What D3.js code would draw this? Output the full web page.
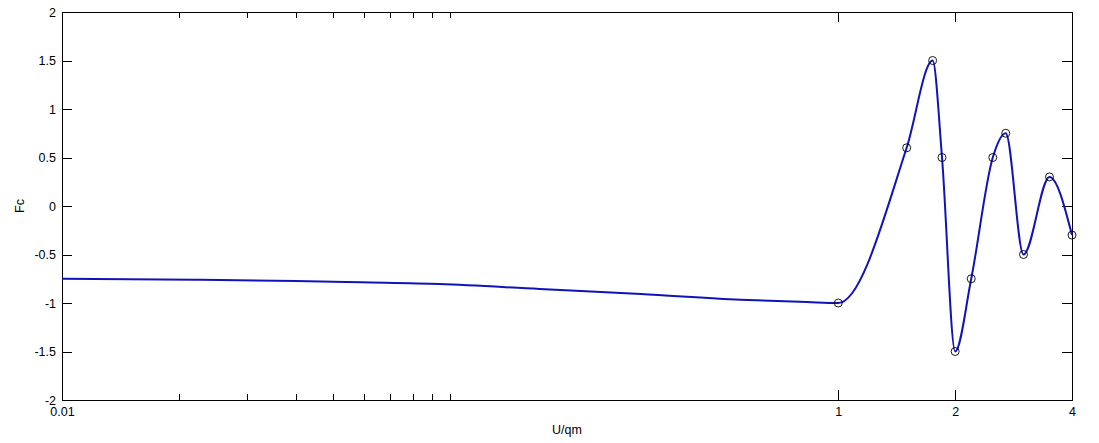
<!DOCTYPE html>
<html>
<head>
<meta charset="utf-8">
<script src="https://d3js.org/d3.v7.min.js"></script>
<style>
    body { margin: 0; background: #fff; }
    svg text { font-family: "Liberation Sans", Arial, sans-serif; font-size: 12.5px; fill: #000; }
    .axis path, .axis line { stroke: #000; shape-rendering: crispEdges; }
</style>
</head>
<body>
<div id="chart"></div>
<script>
// curve (flat part, before the first marker)
var lineU = [0.01, 0.022, 0.04, 0.059, 0.094, 0.17, 0.31, 0.56, 0.83];
var lineFc = [-0.75, -0.76, -0.773, -0.787, -0.805, -0.856, -0.907, -0.966, -0.99];

// marked points
var markU = [1, 1.5, 1.75, 1.85, 2, 2.2, 2.5, 2.7, 3, 3.5, 4];
var markFc = [-1, 0.6, 1.5, 0.5, -1.5, -0.75, 0.5, 0.75, -0.5, 0.3, -0.3];

// ticks
var xMajor = [0.01, 1, 2, 4];
var xMajorLabels = ["0.01", "1", "2", "4"];
var xMinor = [0.02, 0.03, 0.04, 0.05, 0.06, 0.07, 0.08, 0.09, 0.1];
var yTicks = [-2, -1.5, -1, -0.5, 0, 0.5, 1, 1.5, 2];
var yLabels = ["-2", "-1.5", "-1", "-0.5", "0", "0.5", "1", "1.5", "2"];

var width = 1099;
var height = 443;
var margin = { top: 12, right: 27, bottom: 43, left: 62 };
var w = width - margin.left - margin.right;
var h = height - margin.top - margin.bottom;

var svg = d3.select("#chart").append("svg")
    .attr("width", width)
    .attr("height", height);

var g = svg.append("g")
    .attr("transform", "translate(" + margin.left + "," + margin.top + ")");

var x = d3.scaleLog().domain([0.01, 4]).range([0, w]);
var y = d3.scaleLinear().domain([-2, 2]).range([h, 0]);

// bottom / top axes
g.append("g")
    .attr("class", "axis")
    .attr("transform", "translate(0," + h + ")")
    .call(d3.axisBottom(x).tickValues(xMajor)
        .tickFormat(function(d, i) { return xMajorLabels[i]; })
        .tickSizeInner(-10).tickSizeOuter(0).tickPadding(7));

g.append("g")
    .attr("class", "axis")
    .attr("transform", "translate(0," + h + ")")
    .call(d3.axisBottom(x).tickValues(xMinor).tickFormat("")
        .tickSizeInner(-6).tickSizeOuter(0));

g.append("g")
    .attr("class", "axis")
    .call(d3.axisTop(x).tickValues(xMajor).tickFormat("")
        .tickSizeInner(-10).tickSizeOuter(0));

g.append("g")
    .attr("class", "axis")
    .call(d3.axisTop(x).tickValues(xMinor).tickFormat("")
        .tickSizeInner(-6).tickSizeOuter(0));

// left / right axes
g.append("g")
    .attr("class", "axis")
    .call(d3.axisLeft(y).tickValues(yTicks)
        .tickFormat(function(d, i) { return yLabels[i]; })
        .tickSizeInner(-10).tickSizeOuter(0).tickPadding(6));

g.append("g")
    .attr("class", "axis")
    .attr("transform", "translate(" + w + ",0)")
    .call(d3.axisRight(y).tickValues(yTicks).tickFormat("")
        .tickSizeInner(-10).tickSizeOuter(0));

g.selectAll(".axis .domain").attr("stroke-width", 1);

// axis titles
svg.append("text")
    .attr("x", margin.left + w / 2)
    .attr("y", 434)
    .attr("text-anchor", "middle")
    .text("U/qm");

svg.append("text")
    .attr("transform", "translate(24," + (margin.top + h / 2) + ") rotate(-90)")
    .attr("text-anchor", "middle")
    .text("Fc");

// curve
var pts = lineU.map(function(d, i) { return [d, lineFc[i]]; })
    .concat(markU.map(function(d, i) { return [d, markFc[i]]; }));

var line = d3.line()
    .x(function(d) { return x(d[0]); })
    .y(function(d) { return y(d[1]); })
    .curve(d3.curveMonotoneX);

g.append("path")
    .datum(pts)
    .attr("fill", "none")
    .attr("stroke", "#1014b8")
    .attr("stroke-width", 2)
    .attr("d", line);

g.selectAll(".mark")
    .data(markU)
    .enter().append("circle")
    .attr("class", "mark")
    .attr("cx", function(d) { return x(d); })
    .attr("cy", function(d, i) { return y(markFc[i]); })
    .attr("r", 4)
    .attr("fill", "none")
    .attr("stroke", "#000")
    .attr("stroke-width", 0.9);
</script>
</body>
</html>
